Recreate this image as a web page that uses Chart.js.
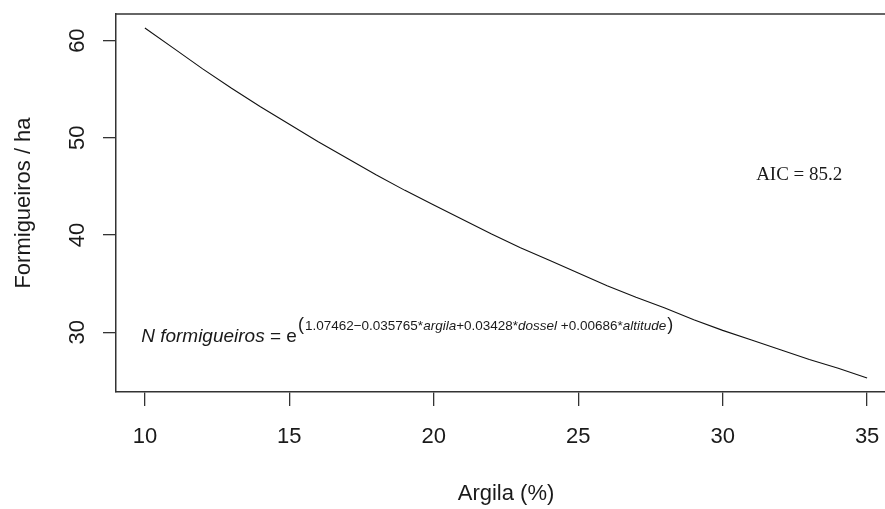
<!DOCTYPE html>
<html>
<head>
<meta charset="utf-8">
<script src="https://cdn.jsdelivr.net/npm/chart.js@4/dist/chart.umd.min.js"></script>
<style>
  html, body { margin: 0; padding: 0; background: #fff; overflow: hidden; }
  #wrap { position: relative; width: 896px; height: 509px; }
</style>
</head>
<body>
<div id="wrap"><canvas id="chart"></canvas></div>
<script>
// fitted curve, read at each % of clay
const argila = [10, 11, 12, 13, 14, 15, 16, 17, 18, 19, 20, 21, 22,
                23, 24, 25, 26, 27, 28, 29, 30, 31, 32, 33, 34, 35];
const formigueiros = [61.3, 59.2, 57.1, 55.1, 53.2, 51.4, 49.6, 47.9, 46.2, 44.6, 43.1, 41.6, 40.1,
                      38.7, 37.4, 36.1, 34.8, 33.6, 32.5, 31.3, 30.2, 29.2, 28.2, 27.2, 26.3, 25.3];
const xTicks = [10, 15, 20, 25, 30, 35];
const yTicks = [30, 40, 50, 60];

const aicLabel = 'AIC = 85.2';
const eqLeft = [
    { t: 'N formigueiros', it: true },
    { t: ' = e', it: false }
];
const eqExponent = [
    { t: '1.07462\u22120.035765*', it: false },
    { t: 'argila', it: true },
    { t: '+0.03428*', it: false },
    { t: 'dossel', it: true },
    { t: ' +0.00686*', it: false },
    { t: 'altitude', it: true }
];

const ink = '#1a1a1a';
const axisInk = '#333';
const sans = '"Liberation Sans", Arial, sans-serif';

// drop the extra room Chart.js keeps for edge labels
function noEdgePadding(axis) {
    axis.paddingTop = 0;
    axis.paddingBottom = 0;
    axis.paddingLeft = 0;
    axis.paddingRight = 0;
}

// box top edge plus the text annotations inside the plot
const plotExtras = {
    id: 'plotExtras',
    afterDraw(chart) {
        const { ctx, chartArea, scales } = chart;
        ctx.save();
        ctx.strokeStyle = axisInk;
        ctx.lineWidth = 1.5;
        ctx.beginPath();
        ctx.moveTo(chartArea.left, chartArea.top);
        ctx.lineTo(chartArea.right, chartArea.top);
        ctx.stroke();

        ctx.fillStyle = ink;
        ctx.textAlign = 'center';
        ctx.textBaseline = 'middle';
        ctx.font = '19px "Liberation Serif", "Times New Roman", serif';
        ctx.fillText(aicLabel, scales.x.getPixelForValue(32.65), scales.y.getPixelForValue(46.2));

        ctx.textAlign = 'left';
        ctx.textBaseline = 'alphabetic';
        let x = scales.x.getPixelForValue(9.87);
        const base = scales.y.getPixelForValue(29.0);
        eqLeft.forEach(p => {
            ctx.font = (p.it ? 'italic ' : '') + '19px ' + sans;
            ctx.fillText(p.t, x, base);
            x += ctx.measureText(p.t).width;
        });
        const supBase = base - 12;
        x += 1;
        ctx.font = '18px ' + sans;
        ctx.fillText('(', x, supBase);
        x += ctx.measureText('(').width + 1;
        eqExponent.forEach(p => {
            ctx.font = (p.it ? 'italic ' : '') + '13.5px ' + sans;
            ctx.fillText(p.t, x, supBase);
            x += ctx.measureText(p.t).width;
        });
        ctx.font = '18px ' + sans;
        ctx.fillText(')', x + 1, supBase);
        ctx.restore();
    }
};

new Chart(document.getElementById('chart'), {
    type: 'line',
    data: {
        datasets: [{
            data: argila.map((a, i) => ({ x: a, y: formigueiros[i] })),
            borderColor: '#111',
            borderWidth: 1.1,
            pointRadius: 0,
            tension: 0,
            fill: false
        }]
    },
    options: {
        responsive: true,
        maintainAspectRatio: false,
        animation: false,
        layout: { padding: { top: 14, right: 0, bottom: 0, left: 0 } },
        plugins: {
            legend: { display: false },
            tooltip: { enabled: false }
        },
        scales: {
            x: {
                type: 'linear',
                min: 9,
                max: 36,
                afterBuildTicks: axis => { axis.ticks = xTicks.map(v => ({ value: v })); },
                afterFit: axis => { axis.height = 117; noEdgePadding(axis); },
                grid: { drawOnChartArea: false, drawTicks: true, tickLength: 14, color: axisInk, lineWidth: 1.3 },
                border: { display: true, color: axisInk, width: 1.5 },
                ticks: { color: ink, font: { family: sans, size: 22 }, padding: 18, maxRotation: 0 },
                title: { display: true, text: 'Argila (%)', color: ink, font: { family: sans, size: 22 }, padding: { top: 0, bottom: 2 } }
            },
            y: {
                type: 'linear',
                min: 23.86,
                max: 62.74,
                afterBuildTicks: axis => { axis.ticks = yTicks.map(v => ({ value: v })); },
                afterFit: axis => { axis.width = 116; noEdgePadding(axis); },
                grid: { drawOnChartArea: false, drawTicks: true, tickLength: 13, color: axisInk, lineWidth: 1.3 },
                border: { display: true, color: axisInk, width: 1.5 },
                ticks: { color: ink, font: { family: sans, size: 22 }, padding: 13, minRotation: 90, maxRotation: 90, crossAlign: 'center' },
                title: { display: true, text: 'Formigueiros / ha', color: ink, font: { family: sans, size: 22 }, padding: { top: 11, bottom: 0 } }
            }
        }
    },
    plugins: [plotExtras]
});
</script>
</body>
</html>
